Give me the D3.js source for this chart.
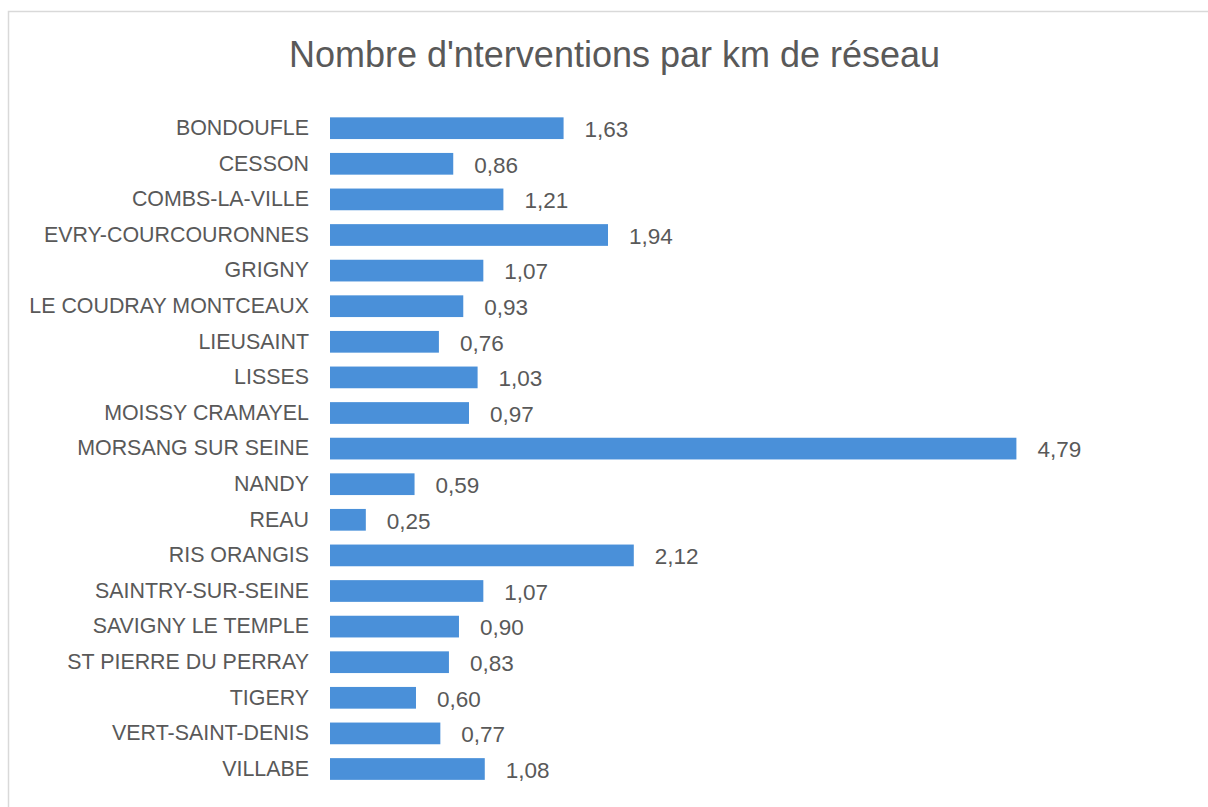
<!DOCTYPE html>
<html>
<head>
<meta charset="utf-8">
<script src="https://cdn.jsdelivr.net/npm/d3@7"></script>
<style>
  html, body { margin: 0; padding: 0; background: #fff; }
  svg { display: block; font-family: "Liberation Sans", Arial, sans-serif; }
</style>
</head>
<body>
<svg id="chart" width="1208" height="807"></svg>
<script>
// Interventions per km of network, by commune
const communes = [
  "BONDOUFLE", "CESSON", "COMBS-LA-VILLE", "EVRY-COURCOURONNES", "GRIGNY",
  "LE COUDRAY MONTCEAUX", "LIEUSAINT", "LISSES", "MOISSY CRAMAYEL",
  "MORSANG SUR SEINE", "NANDY", "REAU", "RIS ORANGIS", "SAINTRY-SUR-SEINE",
  "SAVIGNY LE TEMPLE", "ST PIERRE DU PERRAY", "TIGERY", "VERT-SAINT-DENIS", "VILLABE"
];
const interventionsParKm = [
  1.63, 0.86, 1.21, 1.94, 1.07,
  0.93, 0.76, 1.03, 0.97,
  4.79, 0.59, 0.25, 2.12, 1.07,
  0.90, 0.83, 0.60, 0.77, 1.08
];
const titre = "Nombre d'nterventions par km de réseau";

const svg = d3.select("#chart");
const textColor = "#595959";
const barColor = "#4a90d9";

// chart frame
svg.append("rect")
  .attr("x", 8.5).attr("y", 11.5)
  .attr("width", 1240).attr("height", 820)
  .attr("fill", "#fff").attr("stroke", "#d9d9d9").attr("stroke-width", 1.5);

svg.append("text")
  .attr("x", 614.5).attr("y", 67)
  .attr("text-anchor", "middle")
  .attr("font-size", 36)
  .attr("fill", textColor)
  .text(titre);

const x = d3.scaleLinear().domain([0, 5]).range([330, 1046.5]);
const y = d3.scaleBand()
  .domain(communes)
  .range([110.4, 786.8])
  .paddingInner(0.39)
  .paddingOuter(0.195);

// category axis (labels only)
const yAxis = d3.axisLeft(y).tickSize(0).tickPadding(21);
const gy = svg.append("g").attr("transform", `translate(${x(0)},0)`).call(yAxis);
gy.select(".domain").remove();
gy.selectAll("text")
  .attr("font-size", 21.4)
  .attr("font-family", "Liberation Sans, Arial, sans-serif")
  .attr("fill", textColor);

const data = communes.map((c, i) => ({ commune: c, value: interventionsParKm[i] }));

svg.append("g").selectAll("rect")
  .data(data)
  .join("rect")
  .attr("x", x(0))
  .attr("y", d => y(d.commune))
  .attr("width", d => x(d.value) - x(0))
  .attr("height", y.bandwidth())
  .attr("fill", barColor);

const fmt = v => d3.format(".2f")(v).replace(".", ",");

svg.append("g").selectAll("text")
  .data(data)
  .join("text")
  .attr("x", d => x(d.value) + 21)
  .attr("y", d => y(d.commune) + y.bandwidth() / 2 + 1)
  .attr("dy", "0.35em")
  .attr("font-size", 22.5)
  .attr("fill", textColor)
  .text(d => fmt(d.value));
</script>
</body>
</html>
